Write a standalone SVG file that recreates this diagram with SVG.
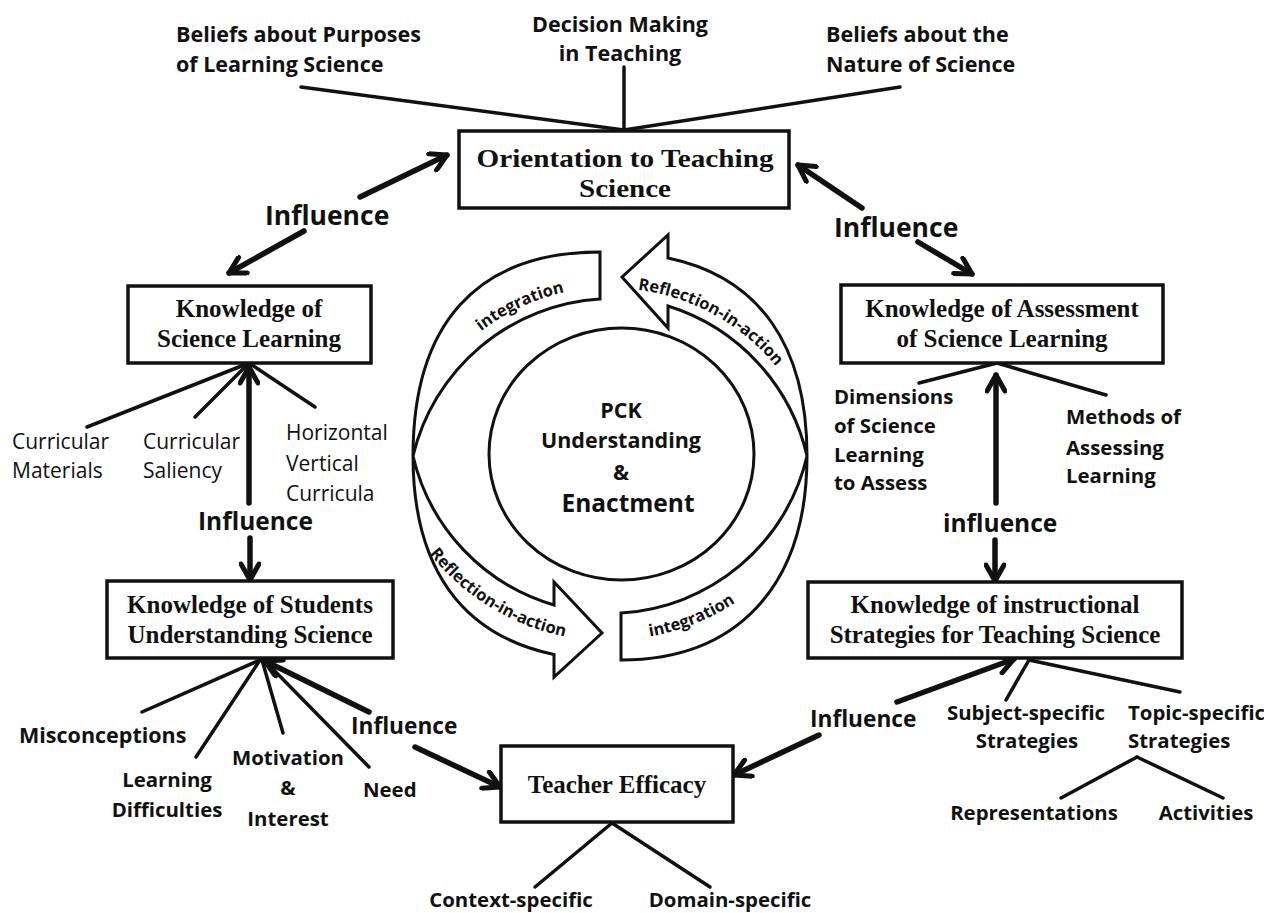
<svg xmlns="http://www.w3.org/2000/svg" width="1264" height="913" viewBox="0 0 1264 913">
<style>
.box{fill:#fff;stroke:#111;stroke-width:3.5}
.ln{stroke:#111;stroke-width:3.5;fill:none;stroke-linecap:round}
.th{stroke:#111;stroke-width:5.5;fill:none;stroke-linecap:round}
.band{fill:#fff;stroke:#111;stroke-width:3;stroke-linejoin:miter}
.ser{font-family:"Liberation Serif","Times New Roman",serif;font-weight:bold;fill:#111;text-anchor:middle;font-size:25px}
.sb{font-family:"Open Sans","Liberation Sans",sans-serif;font-weight:bold;fill:#111}
.sr{font-family:"Open Sans","Liberation Sans",sans-serif;font-weight:normal;fill:#111;font-size:21px}
.mid{text-anchor:middle}
.tp{font-family:"Open Sans","Liberation Sans",sans-serif;font-weight:bold;fill:#111;font-size:16.5px}
</style>
<defs>
<marker id="ah" viewBox="0 0 22 22" refX="19" refY="11" markerWidth="22" markerHeight="22" markerUnits="userSpaceOnUse" orient="auto">
<path d="M3,2 L19,11 L3,20" fill="none" stroke="#111" stroke-width="5" stroke-linecap="round" stroke-linejoin="round"/>
</marker>
<path id="p1" d="M409,429.1 A216,216 0 0 1 685.9,300"/>
<path id="p2" d="M550.7,296.3 A215,215 0 0 1 816.7,443.7"/>
<path id="p3" d="M386.4,464.7 A230,230 0 0 0 663.7,634.6"/>
<path id="p4" d="M519.1,621.2 A229,229 0 0 0 820.2,501.9"/>
</defs>
<rect width="1264" height="913" fill="#fff"/>

<g id="connectors">
<line class="ln" x1="301" y1="87" x2="624" y2="130"/>
<line class="ln" x1="624" y1="67" x2="624" y2="130"/>
<line class="ln" x1="900" y1="87" x2="624" y2="130"/>
<line class="th" x1="360" y1="197" x2="447" y2="155" marker-end="url(#ah)"/>
<line class="th" x1="304" y1="231" x2="229" y2="273" marker-end="url(#ah)"/>
<line class="th" x1="862" y1="208" x2="798" y2="165" marker-end="url(#ah)"/>
<line class="th" x1="918" y1="242" x2="972" y2="274" marker-end="url(#ah)"/>
<line class="ln" x1="249" y1="363" x2="87" y2="427"/>
<line class="ln" x1="249" y1="363" x2="195" y2="417"/>
<line class="ln" x1="249" y1="363" x2="315" y2="407"/>
<line class="th" x1="249" y1="503" x2="249" y2="367" marker-end="url(#ah)"/>
<line class="th" x1="250" y1="538" x2="250" y2="580" marker-end="url(#ah)"/>
<line class="ln" x1="997" y1="363" x2="919" y2="383"/>
<line class="ln" x1="997" y1="363" x2="1106" y2="395"/>
<line class="th" x1="996" y1="503" x2="996" y2="375" marker-end="url(#ah)"/>
<line class="th" x1="995" y1="540" x2="995" y2="581" marker-end="url(#ah)"/>
<line class="ln" x1="260" y1="660" x2="142" y2="712"/>
<line class="ln" x1="260" y1="660" x2="196" y2="757"/>
<line class="ln" x1="262" y1="660" x2="283" y2="733"/>
<line class="ln" x1="264" y1="660" x2="369" y2="767"/>
<line class="th" x1="369" y1="712" x2="265" y2="661" marker-end="url(#ah)"/>
<line class="th" x1="415" y1="747" x2="500" y2="787" marker-end="url(#ah)"/>
<line class="ln" x1="1029" y1="660" x2="1006" y2="700"/>
<line class="ln" x1="1029" y1="660" x2="1180" y2="692"/>
<line class="th" x1="897" y1="702" x2="1014" y2="659" marker-end="url(#ah)"/>
<line class="th" x1="819" y1="735" x2="734" y2="775" marker-end="url(#ah)"/>
<line class="ln" x1="1137" y1="757" x2="1061" y2="798"/>
<line class="ln" x1="1137" y1="757" x2="1223" y2="798"/>
<line class="ln" x1="612" y1="823" x2="535" y2="887"/>
<line class="ln" x1="612" y1="823" x2="710" y2="887"/>
</g>

<g id="influence-labels">
<text class="sb" x="265" y="224.5" font-size="26.5">Influence</text>
<text class="sb" x="834" y="236.5" font-size="26.5">Influence</text>
<text class="sb" x="198" y="530" font-size="24.5">Influence</text>
<text class="sb" x="943" y="532" font-size="24.5">influence</text>
<text class="sb" x="351" y="734" font-size="22.7">Influence</text>
<text class="sb" x="810" y="727" font-size="22.7">Influence</text>
</g>

<g id="node-orientation">
<rect class="box" x="459" y="131" width="330" height="77"/>
<text class="ser" x="625" y="167" font-size="32" textLength="297" lengthAdjust="spacingAndGlyphs">Orientation to Teaching</text>
<text class="ser" x="625" y="197" font-size="32" textLength="92" lengthAdjust="spacingAndGlyphs">Science</text>
</g>
<g id="node-science-learning">
<rect class="box" x="128" y="286" width="243" height="77"/>
<text class="ser" x="249" y="317">Knowledge of</text>
<text class="ser" x="249" y="347">Science Learning</text>
</g>
<g id="node-assessment">
<rect class="box" x="841" y="285" width="322" height="78"/>
<text class="ser" x="1002" y="317">Knowledge of Assessment</text>
<text class="ser" x="1002" y="347">of Science Learning</text>
</g>
<g id="node-students">
<rect class="box" x="107" y="581" width="286" height="77"/>
<text class="ser" x="250" y="613">Knowledge of Students</text>
<text class="ser" x="250" y="643">Understanding Science</text>
</g>
<g id="node-instructional">
<rect class="box" x="808" y="582" width="374" height="76"/>
<text class="ser" x="995" y="613">Knowledge of instructional</text>
<text class="ser" x="995" y="643">Strategies for Teaching Science</text>
</g>
<g id="node-efficacy">
<rect class="box" x="501" y="746" width="232" height="76"/>
<text class="ser" x="617" y="793">Teacher Efficacy</text>
</g>

<g id="node-beliefs-purposes"><text class="sb" font-size="21.5" x="176" y="42">Beliefs about Purposes</text><text class="sb" font-size="21.5" x="176" y="72">of Learning Science</text></g>
<g id="node-decision"><text class="sb mid" font-size="21.5" x="620" y="31.5">Decision Making</text><text class="sb mid" font-size="21.5" x="620" y="61">in Teaching</text></g>
<g id="node-beliefs-nature"><text class="sb" font-size="21.5" x="826" y="42">Beliefs about the</text><text class="sb" font-size="21.5" x="826" y="72">Nature of Science</text></g>

<g id="node-curricular-materials"><text class="sr" x="12" y="449">Curricular</text><text class="sr" x="12" y="478">Materials</text></g>
<g id="node-curricular-saliency"><text class="sr" x="143" y="449">Curricular</text><text class="sr" x="143" y="478">Saliency</text></g>
<g id="node-horizontal"><text class="sr" x="286" y="440">Horizontal</text><text class="sr" x="286" y="471">Vertical</text><text class="sr" x="286" y="501">Curricula</text></g>

<g id="node-dimensions"><text class="sb" font-size="20.4" x="834" y="404">Dimensions</text><text class="sb" font-size="20.4" x="834" y="433">of Science</text><text class="sb" font-size="20.4" x="834" y="462">Learning</text><text class="sb" font-size="20.4" x="834" y="490">to Assess</text></g>
<g id="node-methods"><text class="sb" font-size="20.4" x="1066" y="424">Methods of</text><text class="sb" font-size="20.4" x="1066" y="455">Assessing</text><text class="sb" font-size="20.4" x="1066" y="483">Learning</text></g>

<g id="node-misconceptions"><text class="sb" font-size="21.5" x="19" y="743">Misconceptions</text></g>
<g id="node-difficulties"><text class="sb mid" font-size="20.4" x="167" y="787">Learning</text><text class="sb mid" font-size="20.4" x="167" y="817">Difficulties</text></g>
<g id="node-motivation"><text class="sb mid" font-size="20.4" x="288" y="765">Motivation</text><text class="sb mid" font-size="20.4" x="288" y="795">&amp;</text><text class="sb mid" font-size="20.4" x="288" y="826">Interest</text></g>
<g id="node-need"><text class="sb" font-size="20.4" x="363" y="797">Need</text></g>

<g id="node-subject"><text class="sb mid" font-size="20.4" x="1026" y="720">Subject-specific</text><text class="sb mid" font-size="20.4" x="1027" y="748">Strategies</text></g>
<g id="node-topic"><text class="sb" font-size="20.4" x="1128" y="720">Topic-specific</text><text class="sb" font-size="20.4" x="1128" y="748">Strategies</text></g>
<g id="node-representations"><text class="sb mid" font-size="20.4" x="1034" y="820">Representations</text></g>
<g id="node-activities"><text class="sb mid" font-size="20.4" x="1206" y="820">Activities</text></g>

<g id="node-context"><text class="sb mid" font-size="20.4" x="511" y="907">Context-specific</text></g>
<g id="node-domain"><text class="sb mid" font-size="20.4" x="730" y="907">Domain-specific</text></g>

<g id="node-cycle">
<path class="band" d="M413,456 C413,326 475,252 600,252 L600,299 A205,205 0 0 0 413,456 Z"/>
<path class="band" d="M807,456 C807,345 759,277 668,258 L668,235 L622,277 L668,328 L668,306 A205,205 0 0 1 807,456 Z"/>
<path class="band" d="M413,456 C413,567 461,635 554,654.5 L554,677 L602,633 L554,582 L554,605 A203,203 0 0 1 413,456 Z"/>
<path class="band" d="M807,456 C807,588 735,660 621,660 L621,613 A203,203 0 0 0 807,456 Z"/>
<text class="tp"><textPath href="#p1" startOffset="50%" text-anchor="middle">integration</textPath></text>
<text class="tp"><textPath href="#p2" startOffset="50%" text-anchor="middle">Reflection-in-action</textPath></text>
<text class="tp"><textPath href="#p3" startOffset="50%" text-anchor="middle">Reflection-in-action</textPath></text>
<text class="tp"><textPath href="#p4" startOffset="50%" text-anchor="middle">integration</textPath></text>
</g>

<g id="node-pck">
<ellipse cx="621.5" cy="454" rx="132.5" ry="126" fill="#fff" stroke="#111" stroke-width="3"/>
<text class="sb mid" font-size="21.5" x="621" y="418">PCK</text>
<text class="sb mid" font-size="21.5" x="621" y="448">Understanding</text>
<text class="sb mid" font-size="21.5" x="621" y="480">&amp;</text>
<text class="sb mid" font-size="24.5" x="628" y="512">Enactment</text>
</g>
</svg>
